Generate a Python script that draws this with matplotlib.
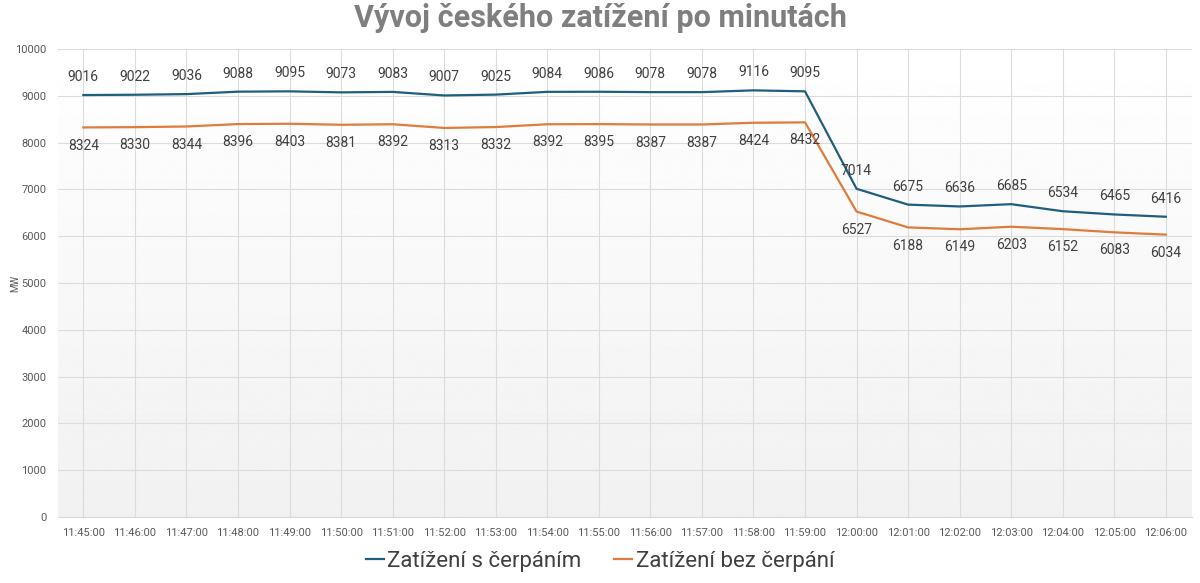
import matplotlib
matplotlib.use('Agg')
import matplotlib.pyplot as plt
from matplotlib import font_manager
import numpy as np

# data
times = ['11:45:00', '11:46:00', '11:47:00', '11:48:00', '11:49:00', '11:50:00',
         '11:51:00', '11:52:00', '11:53:00', '11:54:00', '11:55:00', '11:56:00',
         '11:57:00', '11:58:00', '11:59:00', '12:00:00', '12:01:00', '12:02:00',
         '12:03:00', '12:04:00', '12:05:00', '12:06:00']
s_cerpanim = [9016, 9022, 9036, 9088, 9095, 9073, 9083, 9007, 9025, 9084, 9086,
              9078, 9078, 9116, 9095, 7014, 6675, 6636, 6685, 6534, 6465, 6416]
bez_cerpani = [8324, 8330, 8344, 8396, 8403, 8381, 8392, 8313, 8332, 8392, 8395,
               8387, 8387, 8424, 8432, 6527, 6188, 6149, 6203, 6152, 6083, 6034]

names = {f.name for f in font_manager.fontManager.ttflist}
narrow = 'Liberation Sans Narrow' if 'Liberation Sans Narrow' in names else 'Roboto'
plt.rcParams['font.family'] = [narrow, 'DejaVu Sans']

BLUE = '#1f5f7c'
ORANGE = '#e07b3c'
GREY = '#595959'

fig = plt.figure(figsize=(12, 5.83), dpi=100)
ax = fig.add_axes([0.048, 0.113, 0.945, 0.803])

x = np.arange(len(times))
ax.set_xlim(-0.5, len(times) - 0.5)
ax.set_ylim(0, 10000)

# gradient background
grad = np.linspace(1.0, 0.945, 256).reshape(-1, 1)
ax.imshow(grad, extent=[0, 1, 0, 1], transform=ax.transAxes, cmap='gray',
          vmin=0, vmax=1, aspect='auto', zorder=0)

ax.plot(x, s_cerpanim, color=BLUE, lw=1.6, label='Zatížení s čerpáním', zorder=3)
ax.plot(x, bez_cerpani, color=ORANGE, lw=1.6, label='Zatížení bez čerpání', zorder=3)

for xi, v in zip(x, s_cerpanim):
    ax.annotate(str(v), (xi, v), xytext=(0, 8), textcoords='offset points',
                ha='center', va='bottom', fontsize=10, color='#404040', zorder=4)
for xi, v in zip(x, bez_cerpani):
    ax.annotate(str(v), (xi, v), xytext=(0, -8), textcoords='offset points',
                ha='center', va='top', fontsize=10, color='#404040', zorder=4)

ax.set_xticks(x)
ax.set_xticklabels(times)
ax.set_yticks(np.arange(0, 10001, 1000))
ax.tick_params(axis='both', length=0, labelsize=8, colors=GREY, pad=8)
ax.grid(True, color='#dcdcdc', lw=0.8, zorder=1)
ax.set_axisbelow(True)
for side in ['top', 'right', 'left']:
    ax.spines[side].set_visible(False)
ax.spines['bottom'].set_color('#d9d9d9')

fig.text(0.0125, 0.5 * (0.113 + 0.916), 'MW', rotation=90, ha='center',
         va='center', fontsize=7, color=GREY)

fig.suptitle('Vývoj českého zatížení po minutách', fontsize=22, fontweight='bold',
             color='#7f7f7f', y=0.995)

fig.legend(loc='lower center', ncol=2, frameon=False, fontsize=16,
           handlelength=0.8, handletextpad=0.15, columnspacing=1.5,
           labelcolor='#404040', bbox_to_anchor=(0.5, -0.015))

fig.savefig('out.png', dpi=100)
